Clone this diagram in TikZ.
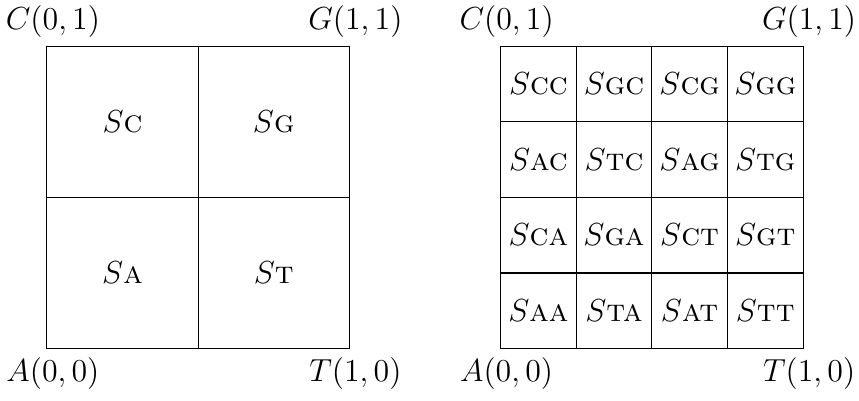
\documentclass[tikz,border=0pt]{standalone}
\usetikzlibrary{positioning}
\tikzset{
    bigcell/.style={rectangle, draw, minimum size=2cm, inner sep=0pt,
                    outer sep=0pt, font=\large},
    smallcell/.style={rectangle, draw, minimum size=1cm, inner sep=0pt,
                      outer sep=0pt, font=\large},
    corner/.style={inner sep=3pt, xshift=0.08cm, font=\large},
}

\begin{document}
\begin{tikzpicture}[node distance=0cm]
    \useasboundingbox (-0.62,-0.69) rectangle (10.74,4.61);
    % left square: one letter
    \node[bigcell] at (1,1) (sa) {$S$\textsc{a}};
    \node[bigcell, right=of sa] (st) {$S$\textsc{t}};
    \node[bigcell, above=of sa] (sc) {$S$\textsc{c}};
    \node[bigcell, above=of st] (sg) {$S$\textsc{g}};

    \node[corner, above] at (sc.north west) (lc) {$C(0,1)$};
    \node[corner, above] at (sg.north east) (lg) {$G(1,1)$};
    \node[corner, below] at (sa.south west) (la) {$A(0,0)$};
    \node[corner, below] at (st.south east) (lt) {$T(1,0)$};

    % right square: two letters
    \node[smallcell] at (6.5,0.5) (saa) {$S$\textsc{aa}};
    \node[smallcell, right=of saa] (sta) {$S$\textsc{ta}};
    \node[smallcell, right=of sta] (sat) {$S$\textsc{at}};
    \node[smallcell, right=of sat] (stt) {$S$\textsc{tt}};
    \node[smallcell, above=of saa] (sca) {$S$\textsc{ca}};
    \node[smallcell, right=of sca] (sga) {$S$\textsc{ga}};
    \node[smallcell, right=of sga] (sct) {$S$\textsc{ct}};
    \node[smallcell, right=of sct] (sgt) {$S$\textsc{gt}};
    \node[smallcell, above=of sca] (sac) {$S$\textsc{ac}};
    \node[smallcell, right=of sac] (stc) {$S$\textsc{tc}};
    \node[smallcell, right=of stc] (sag) {$S$\textsc{ag}};
    \node[smallcell, right=of sag] (stg) {$S$\textsc{tg}};
    \node[smallcell, above=of sac] (scc) {$S$\textsc{cc}};
    \node[smallcell, right=of scc] (sgc) {$S$\textsc{gc}};
    \node[smallcell, right=of sgc] (scg) {$S$\textsc{cg}};
    \node[smallcell, right=of scg] (sgg) {$S$\textsc{gg}};

    \node[corner, above] at (scc.north west) (rc) {$C(0,1)$};
    \node[corner, above] at (sgg.north east) (rg) {$G(1,1)$};
    \node[corner, below] at (saa.south west) (ra) {$A(0,0)$};
    \node[corner, below] at (stt.south east) (rt) {$T(1,0)$};
\end{tikzpicture}
\end{document}
